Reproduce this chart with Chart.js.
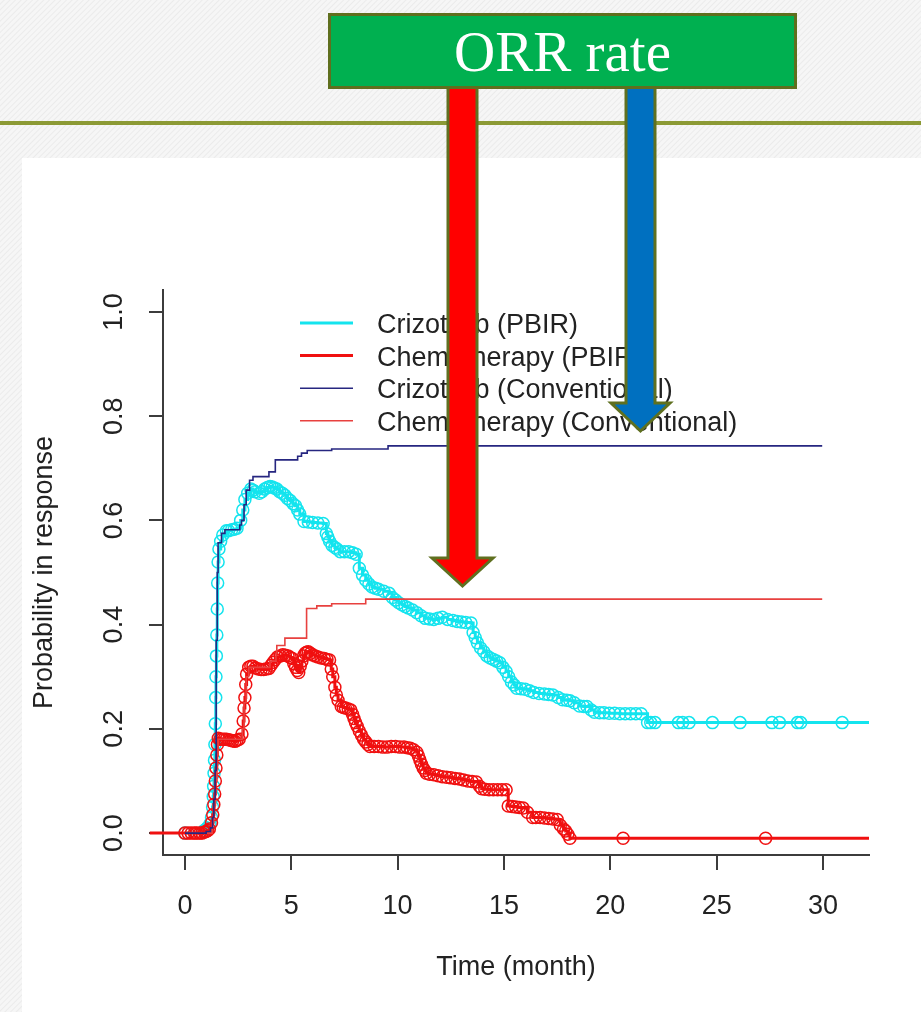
<!DOCTYPE html>
<html>
<head>
<meta charset="utf-8">
<title>ORR rate</title>
<script src="https://cdn.jsdelivr.net/npm/chart.js@4.4.1/dist/chart.umd.min.js"></script>
<style>
  html, body { margin: 0; padding: 0; }
  body {
    width: 921px; height: 1012px; position: relative; overflow: hidden;
    background-color: #f2f2f2;
    background-image: repeating-linear-gradient(135deg, #f6f6f6 0px, #f6f6f6 2px, #ebebeb 3px, #f6f6f6 4px);
  }
  #panel { position: absolute; left: 22px; top: 158px; right: 0; bottom: 0; background: #ffffff; }
  #rule { position: absolute; left: 0; right: 0; top: 121px; height: 4px; background: #8c9a35; }
  #chart { position: absolute; left: 0; top: 0; }
  #arrows { position: absolute; left: 0; top: 0; }
  #banner {
    position: absolute; left: 328px; top: 13px; width: 469px; height: 76px;
    box-sizing: border-box; border: 3.5px solid #5f6f1e; background: #00b050;
    color: #ffffff; font-family: "Liberation Serif", "DejaVu Serif", serif; font-size: 57px;
    display: flex; align-items: center; justify-content: center;
  }
</style>
</head>
<body>
<div id="panel"></div>
<div id="rule"></div>
<canvas id="chart" width="921" height="1012"></canvas>
<svg id="arrows" width="921" height="1012">
  <polygon points="448,86 477,86 477,558 493,558 462.5,586 432,558 448,558"
           fill="#ff0000" stroke="#5f7020" stroke-width="3"/>
  <polygon points="626,86 655,86 655,403 670,403 640.5,431 611,403 626,403"
           fill="#0070c0" stroke="#5f7020" stroke-width="3"/>
</svg>
<div id="banner">ORR rate</div>

<script>
// Axis ticks
const xTicks = [0, 5, 10, 15, 20, 25, 30];
const yTicks = [0, 0.2, 0.4, 0.6, 0.8, 1.0];

// Series labels
const seriesNames = [
  'Crizotinib (PBIR)',
  'Chemotherapy (PBIR)',
  'Crizotinib (Conventional)',
  'Chemotherapy (Conventional)'
];

// [time in months, probability in response]
const crizotinibPBIR = [
  [0,0],[0.9,0.005],[1.05,0.01],[1.18,0.018],[1.25,0.03],[1.3,0.05],[1.33,0.07],[1.35,0.09],
  [1.37,0.115],[1.39,0.14],[1.41,0.17],[1.43,0.21],[1.45,0.26],[1.46,0.3],[1.48,0.34],[1.5,0.38],
  [1.52,0.43],[1.54,0.48],[1.56,0.52],[1.6,0.545],[1.68,0.56],[1.78,0.572],[1.95,0.58],[2.05,0.58],
  [2.2,0.582],[2.32,0.583],[2.45,0.585],[2.62,0.6],[2.72,0.62],[2.82,0.64],[2.95,0.652],[3.1,0.66],
  [3.2,0.658],[3.3,0.655],[3.5,0.652],[3.62,0.655],[3.75,0.66],[3.88,0.663],[4.0,0.665],[4.1,0.664],
  [4.2,0.662],[4.32,0.66],[4.45,0.655],[4.58,0.652],[4.7,0.648],[4.82,0.642],[4.95,0.638],[5.08,0.632],
  [5.2,0.628],[5.3,0.62],[5.4,0.612],[5.6,0.598],[5.8,0.597],[6.0,0.596],[6.25,0.595],[6.5,0.594],
  [6.65,0.575],[6.72,0.568],[6.8,0.56],[6.92,0.552],[7.05,0.548],[7.15,0.545],[7.3,0.54],[7.5,0.54],
  [7.7,0.54],[7.88,0.538],[8.05,0.535],[8.2,0.508],[8.35,0.495],[8.5,0.485],[8.65,0.478],[8.8,0.472],
  [8.95,0.47],[9.1,0.468],[9.35,0.464],[9.6,0.46],[9.75,0.452],[9.9,0.447],[10.05,0.442],[10.2,0.438],
  [10.35,0.435],[10.5,0.432],[10.7,0.428],[10.9,0.423],[11.1,0.417],[11.3,0.412],[11.5,0.411],[11.7,0.41],
  [11.9,0.412],[12.1,0.414],[12.35,0.41],[12.6,0.408],[12.8,0.406],[13.0,0.405],[13.2,0.404],[13.45,0.403],
  [13.55,0.385],[13.65,0.375],[13.75,0.365],[13.9,0.355],[14.05,0.348],[14.2,0.34],[14.35,0.336],[14.5,0.333],
  [14.65,0.33],[14.8,0.327],[14.95,0.318],[15.1,0.31],[15.22,0.3],[15.35,0.29],[15.48,0.284],[15.6,0.278],
  [15.8,0.277],[16.0,0.276],[16.2,0.273],[16.4,0.27],[16.65,0.268],[16.9,0.267],[17.1,0.266],[17.3,0.265],
  [17.55,0.26],[17.75,0.256],[17.95,0.255],[18.1,0.254],[18.3,0.25],[18.55,0.244],[18.75,0.243],[18.9,0.243],
  [19.1,0.236],[19.25,0.232],[19.5,0.231],[19.7,0.231],[19.95,0.23],[20.2,0.23],[20.45,0.229],[20.7,0.229],
  [20.95,0.229],[21.2,0.229],[21.45,0.229],[21.75,0.212],[21.9,0.212],[22.1,0.212],[23.2,0.212],[23.4,0.212],
  [23.7,0.212],[24.8,0.212],[26.1,0.212],[27.6,0.212],[27.95,0.212],[28.8,0.212],[28.95,0.212],[30.9,0.212],
  [32.4,0.212]
];

const chemotherapyPBIR = [
  [-1.65,0],[0,0],[0.15,0],[0.3,0],[0.45,0],[0.55,0],[0.7,0],[0.8,0],[0.92,0.002],[1.0,0.003],
  [1.08,0.005],[1.15,0.008],[1.25,0.02],[1.31,0.035],[1.36,0.055],[1.4,0.075],[1.43,0.1],[1.46,0.125],
  [1.5,0.15],[1.53,0.17],[1.57,0.182],[1.66,0.18],[1.75,0.18],[1.85,0.18],[1.95,0.18],[2.05,0.179],
  [2.15,0.178],[2.25,0.177],[2.35,0.176],[2.45,0.178],[2.55,0.18],[2.68,0.19],[2.74,0.215],[2.78,0.24],
  [2.82,0.26],[2.86,0.285],[2.9,0.305],[3.0,0.318],[3.1,0.32],[3.2,0.32],[3.32,0.317],[3.45,0.315],
  [3.58,0.314],[3.7,0.314],[3.82,0.315],[3.95,0.316],[4.05,0.322],[4.15,0.328],[4.25,0.333],[4.35,0.338],
  [4.48,0.34],[4.6,0.342],[4.72,0.341],[4.85,0.34],[4.95,0.337],[5.05,0.335],[5.12,0.325],[5.2,0.318],
  [5.28,0.312],[5.35,0.308],[5.42,0.32],[5.5,0.33],[5.58,0.34],[5.65,0.345],[5.72,0.347],[5.8,0.348],
  [5.9,0.345],[6.0,0.342],[6.12,0.34],[6.25,0.338],[6.4,0.336],[6.55,0.335],[6.68,0.333],[6.8,0.332],
  [6.88,0.315],[6.95,0.3],[7.05,0.28],[7.12,0.265],[7.2,0.255],[7.35,0.243],[7.45,0.241],[7.55,0.24],
  [7.68,0.238],[7.8,0.236],[7.88,0.228],[7.95,0.22],[8.02,0.212],[8.1,0.205],[8.2,0.196],[8.3,0.188],
  [8.4,0.18],[8.5,0.175],[8.6,0.17],[8.7,0.166],[8.9,0.166],[9.1,0.166],[9.3,0.165],[9.5,0.165],
  [9.7,0.166],[9.9,0.166],[10.1,0.165],[10.3,0.165],[10.45,0.164],[10.6,0.163],[10.75,0.16],[10.9,0.155],
  [10.98,0.148],[11.05,0.14],[11.12,0.132],[11.2,0.125],[11.28,0.12],[11.35,0.115],[11.5,0.113],[11.7,0.112],
  [11.9,0.11],[12.1,0.108],[12.3,0.107],[12.5,0.106],[12.7,0.105],[12.9,0.104],[13.1,0.102],[13.3,0.1],
  [13.5,0.099],[13.7,0.098],[13.85,0.09],[13.95,0.085],[14.1,0.084],[14.3,0.083],[14.5,0.083],[14.7,0.083],
  [14.9,0.083],[15.1,0.083],[15.2,0.052],[15.38,0.051],[15.55,0.05],[15.72,0.049],[15.9,0.048],[16.1,0.04],
  [16.35,0.03],[16.5,0.03],[16.7,0.03],[16.9,0.029],[17.1,0.028],[17.3,0.027],[17.5,0.026],[17.65,0.015],
  [17.8,0.008],[17.9,0.004],[18.0,-0.002],[18.1,-0.01],[20.6,-0.01],[27.3,-0.01],[32.4,-0.01]
];

const crizotinibConventional = [
  [0,0],[1.0,0.003],[1.2,0.01],[1.3,0.03],[1.36,0.065],[1.42,0.12],[1.47,0.37],[1.52,0.5],
  [1.56,0.557],[1.72,0.575],[1.88,0.582],[2.58,0.591],[2.66,0.6],[2.78,0.63],[2.88,0.658],[3.04,0.677],
  [3.2,0.684],[3.95,0.693],[4.25,0.716],[5.3,0.723],[5.48,0.729],[5.75,0.734],[6.9,0.737],[9.55,0.743],
  [29.96,0.743]
];

const chemotherapyConventional = [
  [0,0],[1.28,0.02],[1.35,0.05],[1.42,0.1],[1.5,0.15],[1.56,0.18],[2.7,0.2],[2.78,0.25],
  [2.88,0.3],[3.0,0.318],[4.0,0.33],[4.28,0.345],[4.32,0.36],[4.7,0.374],[5.72,0.431],[6.2,0.436],
  [6.9,0.44],[8.5,0.449],[29.96,0.449]
];

const X_MIN = -1.03, X_MAX = 32.16;
const Y_MIN = -0.042, Y_MAX = 1.042;
const FONT = "'Liberation Sans', Arial, sans-serif";
const TEXT = '#222222';
const AXIS = '#3c3c3c';

const insideX = c => c.raw && c.raw.x >= X_MIN && c.raw.x <= X_MAX;

// Step curve: horizontal run to the next time, then vertical jump
function series(label, pairs, color, width, circles, order, clip) {
  return {
    label,
    data: pairs.map(([t, p]) => ({ x: t, y: p })),
    borderColor: color,
    borderWidth: width,
    stepped: 'before',
    fill: false,
    tension: 0,
    pointRadius: circles ? (c => insideX(c) ? 6 : 0) : 0,
    pointHoverRadius: 0,
    pointBorderWidth: 1.5,
    pointBorderColor: color,
    pointBackgroundColor: 'rgba(0,0,0,0)',
    order,
    clip
  };
}

// Legend drawn inside the plot, R style
const innerLegend = {
  id: 'innerLegend',
  afterDatasetsDraw(chart) {
    const { ctx, chartArea } = chart;
    const x0 = chartArea.left + 137, x1 = x0 + 53, tx = x1 + 24;
    let y = chartArea.top + 33;
    ctx.save();
    ctx.font = '27px ' + FONT;
    ctx.textBaseline = 'middle';
    ctx.textAlign = 'left';
    chart.data.datasets.forEach(ds => {
      ctx.strokeStyle = ds.borderColor;
      ctx.lineWidth = ds.borderWidth;
      ctx.beginPath();
      ctx.moveTo(x0, y);
      ctx.lineTo(x1, y);
      ctx.stroke();
      ctx.fillStyle = TEXT;
      ctx.fillText(ds.label, tx, y + 2.5);
      y += 32.6;
    });
    ctx.restore();
  }
};

new Chart(document.getElementById('chart'), {
  type: 'line',
  data: {
    datasets: [
      series(seriesNames[0], crizotinibPBIR, '#14e4ee', 3, true, 4, { left: 0, top: false, right: 0, bottom: false }),
      series(seriesNames[1], chemotherapyPBIR, '#f01010', 3, true, 3, { left: 14, top: false, right: 0, bottom: false }),
      series(seriesNames[2], crizotinibConventional, '#262680', 1.6, false, 1, false),
      series(seriesNames[3], chemotherapyConventional, '#e8413f', 1.6, false, 2, false)
    ]
  },
  options: {
    responsive: false,
    animation: false,
    devicePixelRatio: 1,
    events: [],
    layout: { padding: { top: 290, right: 52, bottom: 0, left: 0 } },
    plugins: { legend: { display: false }, tooltip: { enabled: false } },
    scales: {
      x: {
        type: 'linear',
        min: X_MIN,
        max: X_MAX,
        afterBuildTicks: s => { s.ticks = xTicks.map(v => ({ value: v })); },
        afterFit: s => { s.height = 157; },
        grid: { display: true, drawOnChartArea: false, drawTicks: true, tickLength: 15, color: AXIS, lineWidth: 2 },
        border: { display: true, color: AXIS, width: 2 },
        ticks: {
          color: TEXT, font: { family: FONT, size: 27 }, padding: 20,
          autoSkip: false, maxRotation: 0, minRotation: 0,
          callback: v => String(v)
        },
        title: {
          display: true, text: 'Time (month)', color: TEXT,
          font: { family: FONT, size: 27 }, padding: { top: 0, bottom: 28 }
        }
      },
      y: {
        type: 'linear',
        min: Y_MIN,
        max: Y_MAX,
        afterBuildTicks: s => { s.ticks = yTicks.map(v => ({ value: v })); },
        afterFit: s => { s.width = 163; },
        grid: { display: true, drawOnChartArea: false, drawTicks: true, tickLength: 14, color: AXIS, lineWidth: 2 },
        border: { display: true, color: AXIS, width: 2 },
        ticks: {
          color: TEXT, font: { family: FONT, size: 27 }, padding: 16,
          autoSkip: false, minRotation: 90, maxRotation: 90, crossAlign: 'center',
          callback: v => Number(v).toFixed(1)
        },
        title: {
          display: true, text: 'Probability in response', color: TEXT,
          font: { family: FONT, size: 27 }, padding: { top: 28, bottom: 0 }
        }
      }
    }
  },
  plugins: [innerLegend]
});
</script>
</body>
</html>
